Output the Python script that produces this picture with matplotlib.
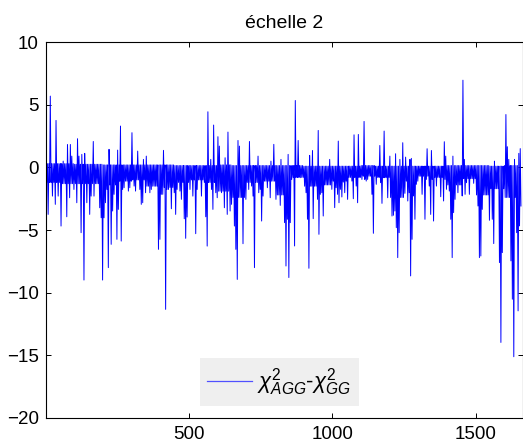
import numpy as np
import matplotlib
matplotlib.use('Agg')
import matplotlib.pyplot as plt

plt.rcParams['font.family'] = ['Liberation Sans', 'DejaVu Sans']
plt.rcParams['mathtext.fontset'] = 'custom'
plt.rcParams['mathtext.it'] = 'Liberation Sans:italic'
plt.rcParams['mathtext.rm'] = 'Liberation Sans'
plt.rcParams['mathtext.sf'] = 'Liberation Sans'

# ---- data ----
n_samples = 1664
seg_len = 50
band_top = [0.3, 0.3, 0.25, 0.25, 0.2, 0.2, 0.2, 0.2, 0.2, 0.15, 0.15, 0.15,
            0.2, 0.15, 0.15, 0.15, 0.15, 0.15, 0.1, 0.1, 0.1, 0.1, 0.15, 0.1,
            0.1, 0.1, 0.1, 0.1, 0.15, 0.15, 0.15, 0.1, 0.15, 0.15]
band_bot = [-1.2, -1.3, -1.3, -1.3, -1.4, -1.1, -1.0, -1.5, -1.6, -1.2, -1.0, -1.2,
            -1.9, -2.4, -1.2, -1.1, -2.2, -0.8, -1.5, -1.4, -1.1, -0.8, -0.7, -0.8,
            -2.4, -1.1, -0.7, -0.8, -1.4, -0.9, -2.2, -1.7, -2.4, -2.4]

up_x = [16, 39, 62, 76, 85, 92, 111, 118, 125, 139, 167, 220, 250, 262, 301, 320,
        343, 352, 413, 566, 569, 576, 585, 603, 606, 627, 638, 673, 675, 713, 743,
        789, 799, 822, 847, 873, 884, 924, 933, 952, 994, 1021, 1075, 1093, 1110,
        1114, 1168, 1180, 1184, 1200, 1221, 1235, 1249, 1259, 1272, 1277, 1330,
        1347, 1391, 1395, 1420, 1455, 1457, 1459, 1464, 1566, 1606, 1608, 1610,
        1613, 1617, 1638, 1650, 1655, 1659]
up_y = [5.69, 3.75, 0.5, 1.83, 1.83, 0.9, 2.29, 0.9, 1.04, 1.12, 2.07, 1.44, 1.38,
        3.3, 2.77, 1.3, 0.64, 0.9, 1.36, 4.44, 2.5, 0.64, 3.38, 2.45, 1.7, 0.77,
        2.82, 2.15, 1.7, 2.07, 0.9, 0.5, 1.84, 0.64, 1.04, 5.34, 2.15, 0.96, 1.35,
        2.95, 0.64, 2.1, 2.6, 2.63, 3.67, 1.97, 1.75, 1.17, 2.9, 0.9, 1.09, 0.64,
        1.97, 0.82, 0.64, 0.72, 1.49, 1.35, 2.05, 0.9, 0.9, 0.64, 2.42, 6.96, 0.64,
        0.5, 4.22, 2.28, 1.65, 1.43, 0.64, 0.64, 1.12, 1.5, 0.64]

dn_x = [7, 20, 30, 41, 53, 74, 83, 97, 109, 120, 123, 131, 142, 150, 157, 169, 178,
        188, 192, 197, 202, 206, 211, 216, 225, 232, 239, 246, 253, 264, 269, 274,
        285, 292, 308, 313, 325, 332, 339, 348, 362, 369, 390, 392, 394, 397, 401,
        408, 415, 419, 422, 429, 438, 448, 454, 459, 469, 473, 480, 487, 494, 501,
        513, 522, 529, 543, 555, 557, 562, 578, 582, 592, 596, 610, 617, 624, 634,
        641, 648, 655, 659, 662, 664, 668, 680, 687, 696, 706, 717, 722, 729, 740,
        747, 752, 759, 773, 780, 803, 817, 826, 831, 834, 838, 841, 845, 850, 854,
        859, 868, 889, 901, 905, 910, 915, 919, 929, 931, 940, 945, 954, 959, 963,
        968, 973, 989, 996, 1003, 1008, 1012, 1017, 1024, 1028, 1033, 1038, 1042,
        1047, 1052, 1066, 1070, 1084, 1089, 1100, 1117, 1112, 1124, 1135, 1140,
        1154, 1166, 1170, 1175, 1182, 1191, 1193, 1205, 1210, 1214, 1219, 1224,
        1226, 1231, 1233, 1240, 1245, 1252, 1261, 1268, 1270, 1279, 1284, 1286,
        1291, 1310, 1321, 1326, 1337, 1342, 1349, 1354, 1361, 1375, 1379, 1386,
        1394, 1397, 1408, 1411, 1417, 1422, 1427, 1434, 1436, 1448, 1452, 1462,
        1466, 1476, 1494, 1503, 1506, 1508, 1510, 1513, 1515, 1520, 1524, 1527,
        1536, 1541, 1545, 1552, 1555, 1559, 1564, 1571, 1580, 1582, 1585, 1587,
        1589, 1592, 1601, 1615, 1620, 1622, 1624, 1627, 1629, 1631, 1640, 1643,
        1647, 1652, 1654, 1657, 1659, 1661]
dn_y = [-3.75, -2.29, -2.95, -2.29, -4.68, -3.94, -2.42, -1.76, -2.82, -2.69, -5.21,
        -8.99, -2.82, -3.75, -2.29, -2.29, -1.22, -3.22, -4.02, -8.99, -4.02, -2.82,
        -1.76, -8.0, -6.14, -3.48, -2.15, -5.74, -3.35, -5.88, -1.76, -1.62,
        -1.89, -1.62, -1.49, -1.89, -1.76, -2.95, -2.82, -2.02, -2.02, -1.76, -6.28,
        -6.41, -6.54, -5.74, -2.15, -2.15, -6.54, -11.33, -1.76, -1.76, -3.3, -2.02,
        -3.75, -1.76, -1.89, -2.55, -4.1, -5.66, -3.96, -1.76, -2.29, -5.29, -1.76,
        -2.29, -3.94, -3.88, -6.28, -1.76, -3.35, -2.02, -2.42, -2.02, -1.89, -3.22,
        -3.75, -3.48, -2.95, -2.29, -4.68, -6.54, -4.41, -8.94, -1.76, -6.09, -2.55,
        -1.76, -1.49, -2.29, -8.0, -2.02, -1.76, -4.28, -2.29, -1.62, -2.42, -2.55,
        -3.03, -1.76, -2.15, -4.41, -7.87, -4.14, -8.79, -4.41, -2.82, -0.96, -6.27,
        -0.82, -0.96, -2.02, -4.14, -8.05, -1.49, -1.49, -4.09, -1.49, -2.55, -5.34,
        -2.15, -2.02, -3.88, -1.22, -0.69, -1.75, -0.96, -3.21, -1.62, -2.15, -2.82,
        -1.75, -2.36, -1.17, -2.02, -0.9, -2.55, -1.09, -2.5, -1.49, -2.82, -0.96,
        -1.09, -0.96, -0.96, -2.15, -5.26, -1.35, -1.22, -2.87, -0.82, -0.82, -2.42,
        -1.75, -3.88, -1.75, -3.82, -3.48, -4.81, -7.2, -4.14, -5.21, -2.02, -2.15,
        -2.07, -2.68, -2.02, -8.66, -5.74, -2.28, -4.14, -1.35, -2.15, -4.14, -0.96,
        -1.49, -3.75, -0.96, -4.28, -1.49, -1.75, -2.34, -2.68, -0.96, -1.75, -1.89,
        -4.14, -7.2, -3.61, -2.55, -1.35, -2.02, -1.22, -2.28, -2.15, -1.22, -2.15,
        -1.27, -1.62, -1.89, -3.08, -4.2, -7.2, -7.07, -3.35, -2.02, -1.35, -1.43,
        -1.22, -4.22, -1.49, -1.89, -4.14, -6.08, -1.35, -1.49, -7.6, -3.88, -3.61,
        -13.97, -6.8, -1.49, -1.22, -2.02, -4.81, -7.46, -7.6, -10.52, -15.11, -5.21,
        -4.94, -11.45, -2.42, -4.67, -2.82, -3.08, -2.02]

x_ticks = [500, 1000, 1500]
y_ticks = [-20, -15, -10, -5, 0, 5, 10]
title = 'échelle 2'
legend_label = r'$\chi^{2}_{AGG}$-$\chi^{2}_{GG}$'

# ---- assemble the trace: each 5-sample bin goes from its high to its low ----
bin_w = 5
nb = n_samples // bin_w
hi = np.array([band_top[min(b * bin_w // seg_len, len(band_top) - 1)] for b in range(nb)])
lo = np.array([band_bot[min(b * bin_w // seg_len, len(band_bot) - 1)] for b in range(nb)])
for xv, yv in zip(up_x, up_y):
    b = min(xv // bin_w, nb - 1)
    hi[b] = max(hi[b], yv)
for xv, yv in zip(dn_x, dn_y):
    b = min(xv // bin_w, nb - 1)
    lo[b] = min(lo[b], yv)
xs = np.empty(2 * nb)
ys = np.empty(2 * nb)
xs[0::2] = np.arange(nb) * bin_w + 1
xs[1::2] = np.arange(nb) * bin_w + 3.5
ys[0::2] = hi
ys[1::2] = lo

fig = plt.figure(figsize=(5.23, 4.48), dpi=100)
ax = fig.add_axes([0.0874, 0.067, 0.9117, 0.839])
ax.plot(xs, ys, color='#0000ff', linewidth=0.7, label=legend_label)
ax.set_xlim(0, n_samples)
ax.set_ylim(-20, 10)
ax.set_xticks(x_ticks)
ax.set_yticks(y_ticks)
ax.tick_params(direction='in', length=3.6, width=0.7, top=True, right=True,
               labelsize=13.5, colors='black')
ax.tick_params(axis='x', pad=6)
ax.tick_params(axis='y', pad=5)
for s in ax.spines.values():
    s.set_linewidth(0.8)
ax.set_title(title, fontsize=14, pad=10)
leg = ax.legend(loc='lower center', bbox_to_anchor=(0.49, 0.033), borderaxespad=0,
                fontsize=16, handlelength=2.0, handletextpad=0.25, borderpad=0.35,
                fancybox=False, framealpha=1)
leg.get_frame().set_facecolor('#efefef')
leg.get_frame().set_edgecolor('none')
for l in leg.get_lines():
    l.set_color('#5050ff')
    l.set_linewidth(0.9)
fig.savefig('out.png', dpi=100)
